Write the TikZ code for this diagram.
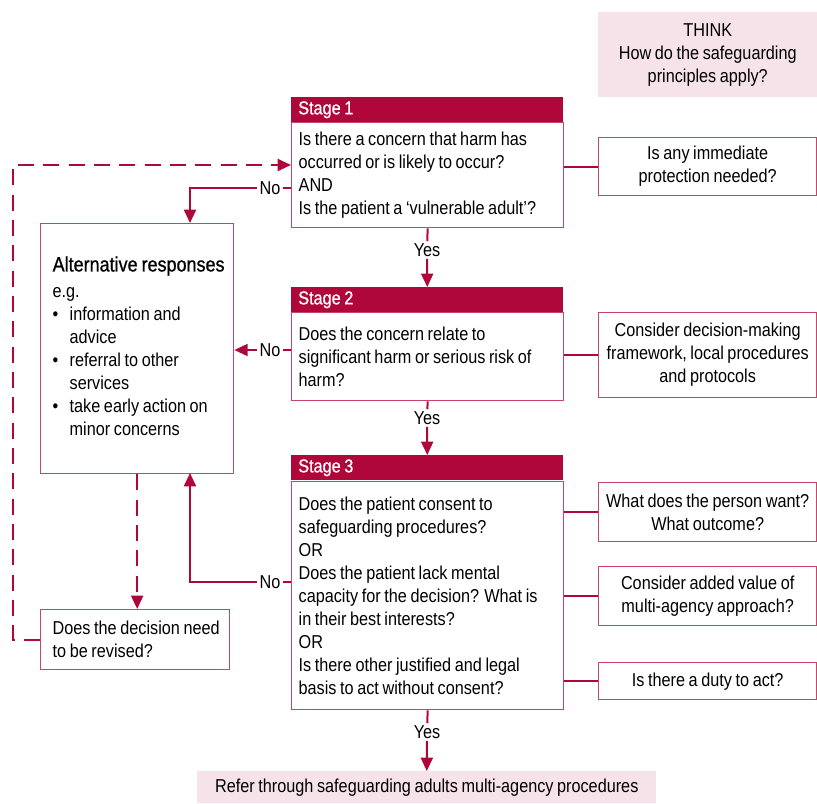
\documentclass[tikz,border=0pt]{standalone}
\usepackage{fontspec}
\setmainfont{Liberation Sans}[FakeStretch=0.87,WordSpace=0.8]
\newfontfamily\medfont{Liberation Sans}[FakeStretch=0.87,WordSpace=0.8,FakeBold=0.8]
\usetikzlibrary{arrows.meta,positioning}
\definecolor{crimson}{HTML}{B0073A}
\definecolor{boxline}{HTML}{C8456A}
\definecolor{pinkfill}{HTML}{F6E3EA}

\begin{document}
\begin{tikzpicture}[x=0.75pt,y=-0.75pt,
  font=\fontsize{14}{17.25}\selectfont,
  >={Triangle[width=9pt,length=10pt]},
  stagehead/.style={fill=crimson,text=white,anchor=north west,
    text width=193.5pt,inner xsep=5.25pt,inner ysep=0pt,
    minimum height=18.75pt,align=flush left,font=\fontsize{14}{17.25}\medfont},
  stagebody/.style={draw=boxline,line width=1pt,anchor=north west,
    text width=193.5pt,inner xsep=5.25pt,inner ysep=0pt,align=flush left},
  sidebox/.style={draw=boxline,line width=1pt,anchor=north west,
    minimum width=163.5pt,inner sep=0pt,align=center},
  leftbox/.style={draw=boxline,line width=1pt,anchor=north west,
    inner xsep=9pt,inner ysep=0pt,align=flush left},
  pinkbox/.style={fill=pinkfill,anchor=north west,inner sep=0pt,align=center},
  link/.style={draw=crimson,line width=1.5pt},
  dashlink/.style={link,dash pattern=on 12pt off 7pt},
  lbl/.style={inner sep=1.5pt}]
\useasboundingbox (0,0) rectangle (817,803);

% think box
\node[pinkbox,minimum width=164.25pt,minimum height=63.75pt] (think) at (598,12)
  {THINK\\How do the safeguarding\\principles apply?};

% stage 1
\node[stagehead] (s1h) at (291,97) {Stage 1};
\node[stagebody,minimum height=78.75pt] (s1b) at (291,122)
  {Is there a concern that harm has\\occurred or is likely to occur?\\AND\\Is the patient a `vulnerable adult'?};
\node[sidebox,minimum height=43.5pt] (r1) at (598,137)
  {Is any immediate\\protection needed?};

% stage 2
\node[stagehead] (s2h) at (291,287) {Stage 2};
\node[stagebody,minimum height=66pt] (s2b) at (291,312)
  {Does the concern relate to\\significant harm or serious risk of\\harm?};
\node[sidebox,minimum height=63.75pt] (r2) at (598,312)
  {Consider decision-making\\framework, local procedures\\and protocols};

% stage 3
\node[stagehead] (s3h) at (291,455) {Stage 3};
\node[stagebody,minimum height=171pt] (s3b) at (291,481)
  {Does the patient consent to\\safeguarding procedures?\\OR\\Does the patient lack mental\\capacity for the decision? What is\\in their best interests?\\OR\\Is there other justified and legal\\basis to act without consent?};
\node[sidebox,minimum height=44.25pt] (r3a) at (598,482)
  {What does the person want?\\What outcome?};
\node[sidebox,minimum height=44.25pt] (r3b) at (598,566)
  {Consider added value of\\multi-agency approach?};
\node[sidebox,minimum height=27.75pt] (r3c) at (598,662)
  {Is there a duty to act?};

% left side
\node[leftbox,text width=126.75pt,minimum height=187.5pt] (alt) at (40,223)
  {\begin{tabular}{@{}l@{\hspace{8.5pt}}l@{}}
   \multicolumn{2}{@{}l@{}}{\fontsize{15.5}{17.25}\medfont Alternative responses}\\[2pt]
   \multicolumn{2}{@{}l@{}}{e.g.}\\
   \textbullet & information and\\
               & advice\\
   \textbullet & referral to other\\
               & services\\
   \textbullet & take early action on\\
               & minor concerns
   \end{tabular}};
\node[leftbox,text width=123.75pt,minimum height=45pt] (rev) at (40,609)
  {\mbox{Does the decision need}\\to be revised?};

% referral
\node[pinkbox,minimum width=344.25pt,minimum height=24pt] (refer) at (197,771)
  {Refer through safeguarding adults multi-agency procedures};

% yes / no labels
\node[lbl] (yes1) at (427,250) {Yes};
\node[lbl] (yes2) at (427,418) {Yes};
\node[lbl] (yes3) at (427,732) {Yes};
\node[lbl] (no1) at (270,188) {No};
\node[lbl] (no2) at (270,350) {No};
\node[lbl] (no3) at (270,582) {No};
\coordinate (a1) at (190,223);
\coordinate (a3) at (190,473);
\coordinate (d1) at (13,165);

% main flow
\draw[link] (s1b.south) -- (yes1);
\draw[link,->] (yes1) -- (s2h.north);
\draw[link] (s2b.south) -- (yes2);
\draw[link,->] (yes2) -- (s3h.north);
\draw[link] (s3b.south) -- (yes3);
\draw[link,->] (yes3) -- (refer.north);

% no branches
\draw[link] (s1b.west |- no1) -- (no1);
\draw[link,->] (no1) -| (a1);
\draw[link] (s2b.west |- no2) -- (no2);
\draw[link,->] (no2) -- (no2 -| alt.east);
\draw[link] (s3b.west |- no3) -- (no3);
\draw[link,->] (no3) -| (a3);

% side links
\draw[link] (s1b.east |- r1) -- (r1.west);
\draw[link] (s2b.east |- r2) -- (r2.west);
\draw[link] (s3b.east |- r3a) -- (r3a.west);
\draw[link] (s3b.east |- r3b) -- (r3b.west);
\draw[link] (s3b.east |- r3c) -- (r3c.west);

% review loop
\draw[dashlink,->] (alt.south) -- (alt.south |- rev.north);
\draw[dashlink,->] (rev.west) -- (rev.west -| d1) -- (d1) -- (d1 -| s1b.west);
\end{tikzpicture}
\end{document}
